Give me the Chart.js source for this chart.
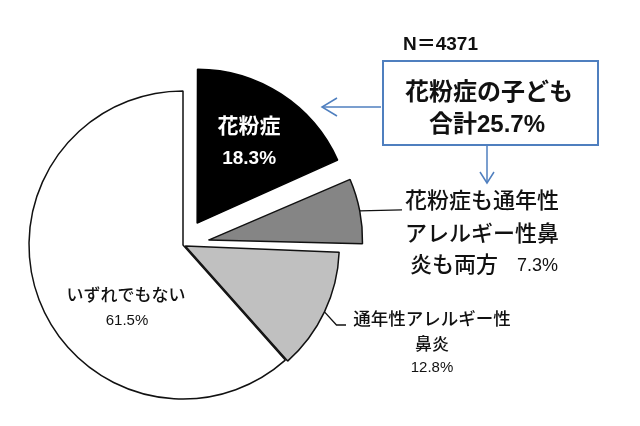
<!DOCTYPE html>
<html><head><meta charset="utf-8">
<script src="https://cdn.jsdelivr.net/npm/chart.js@4/dist/chart.umd.min.js"></script>
<style>html,body{margin:0;padding:0;background:#fff;}canvas{display:block}</style>
</head><body>
<canvas id="c" width="640" height="426"></canvas>
<script>
// ---- data ----
const categories = ['花粉症', '花粉症も通年性アレルギー性鼻炎も両方', '通年性アレルギー性鼻炎', 'いずれでもない'];
const shares = [18.3, 7.3, 12.8, 61.5];
const sampleSize = 4371;
const combinedShare = 25.7;
const calloutTitle = '花粉症の子ども';
const calloutPrefix = '合計';
const labelLines = [['花粉症'], ['花粉症も通年性', 'アレルギー性鼻', '炎も両方'], ['通年性アレルギー性', '鼻炎'], ['いずれでもない']];

// ---- styles ----
const sliceColors = ['#000000', '#858585', '#c0c0c0', '#ffffff'];
const sliceBorders = ['#000000', '#111111', '#111111', '#111111'];
const explode = [104, 104, 10, 0];
const MIX = "'Liberation Sans', Arial, 'Noto Sans CJK JP', sans-serif";
const BLUE = '#4f7fbf';
const pct = i => shares[i].toFixed(1) + '%';

function txt(ctx, s, x, y, font, color, align) {
  ctx.font = font; ctx.fillStyle = color; ctx.textAlign = align || 'center'; ctx.textBaseline = 'middle';
  ctx.fillText(s, x, y);
}
function line(ctx, pts, color, w) {
  ctx.beginPath(); ctx.strokeStyle = color; ctx.lineWidth = w;
  ctx.moveTo(pts[0][0], pts[0][1]);
  for (let i = 1; i < pts.length; i++) ctx.lineTo(pts[i][0], pts[i][1]);
  ctx.stroke();
}

const fixRadius = {
  id: 'fixRadius',
  beforeDatasetsDraw(chart) {
    const meta = chart.getDatasetMeta(0);
    const base = meta.controller.outerRadius;
    meta.data.forEach(el => {
      const off = (el.options.offset || 0) / 4;
      const fix = 1 - Math.sin(Math.min(Math.PI, el.circumference));
      el.outerRadius = base - off * fix;
    });
  }
};

const annotations = {
  id: 'annotations',
  afterDatasetsDraw(chart) {
    const ctx = chart.ctx;
    const meta = chart.getDatasetMeta(0);
    const base = meta.controller.outerRadius;
    const geo = meta.data.map(el => {
      const mid = (el.startAngle + el.endAngle) / 2;
      const t = (el.options.offset || 0) / 4;
      const vx = el.x + Math.cos(mid) * t, vy = el.y + Math.sin(mid) * t;
      return { mid, vx, vy, ex: vx + Math.cos(mid) * base, ey: vy + Math.sin(mid) * base };
    });
    ctx.save();
    // slice 0 label inside black slice
    const g0 = geo[0];
    const lx = g0.vx + Math.cos(g0.mid) * base * 0.62, ly = g0.vy + Math.sin(g0.mid) * base * 0.62;
    txt(ctx, labelLines[0][0], lx, ly - 16, "bold 21px " + MIX, '#ffffff');
    txt(ctx, pct(0), lx, ly + 16, "bold 19px " + MIX, '#ffffff');

    // slice 1 leader + label
    const g1 = geo[1];
    line(ctx, [[g1.ex, g1.ey], [402, g1.ey - 1]], '#111', 1.3);
    txt(ctx, labelLines[1][0], 405, 202, "500 22px " + MIX, '#111', 'left');
    txt(ctx, labelLines[1][1], 405, 235, "500 22px " + MIX, '#111', 'left');
    txt(ctx, labelLines[1][2], 410, 266, "500 22px " + MIX, '#111', 'left');
    txt(ctx, pct(1), 517, 266, "500 18px " + MIX, '#111', 'left');

    // slice 2 leader + label
    const g2 = geo[2];
    line(ctx, [[g2.ex, g2.ey], [g2.ex + 12, 325], [346, 325]], '#111', 1.3);
    txt(ctx, labelLines[2][0], 432, 320, "500 17.5px " + MIX, '#111');
    txt(ctx, labelLines[2][1], 432, 345, "500 17px " + MIX, '#111');
    txt(ctx, pct(2), 432, 368, "500 15px " + MIX, '#111');

    // slice 3 label
    txt(ctx, labelLines[3][0], 126, 296, "500 17px " + MIX, '#111');
    txt(ctx, pct(3), 127, 321, "500 15px " + MIX, '#111');

    // N
    txt(ctx, 'N＝' + sampleSize, 403, 45, "bold 19px " + MIX, '#111', 'left');

    // callout box
    ctx.strokeStyle = BLUE; ctx.lineWidth = 2;
    ctx.strokeRect(383, 61, 215, 84);
    txt(ctx, calloutTitle, 489, 93, "bold 24px " + MIX, '#111');
    txt(ctx, calloutPrefix + combinedShare.toFixed(1) + '%', 487, 125, "bold 24px " + MIX, '#111');

    // arrows
    line(ctx, [[381, 107], [322, 107]], BLUE, 1.5);
    line(ctx, [[337, 98], [322, 107], [337, 116]], BLUE, 1.5);
    line(ctx, [[487, 146], [487, 183]], BLUE, 1.5);
    line(ctx, [[480, 172], [487, 183], [494, 172]], BLUE, 1.5);
    ctx.restore();
  }
};

new Chart(document.getElementById('c'), {
  type: 'pie',
  data: {
    labels: categories,
    datasets: [{
      data: shares,
      backgroundColor: sliceColors,
      borderColor: sliceBorders,
      borderWidth: 1.5,
      offset: explode,
      hoverOffset: 0
    }]
  },
  options: {
    responsive: false,
    animation: false,
    radius: 154,
    layout: { padding: { left: 0, right: 274, top: 64, bottom: 0 } },
    plugins: { legend: { display: false }, tooltip: { enabled: false } },
    events: []
  },
  plugins: [fixRadius, annotations]
});
</script>
</body></html>
